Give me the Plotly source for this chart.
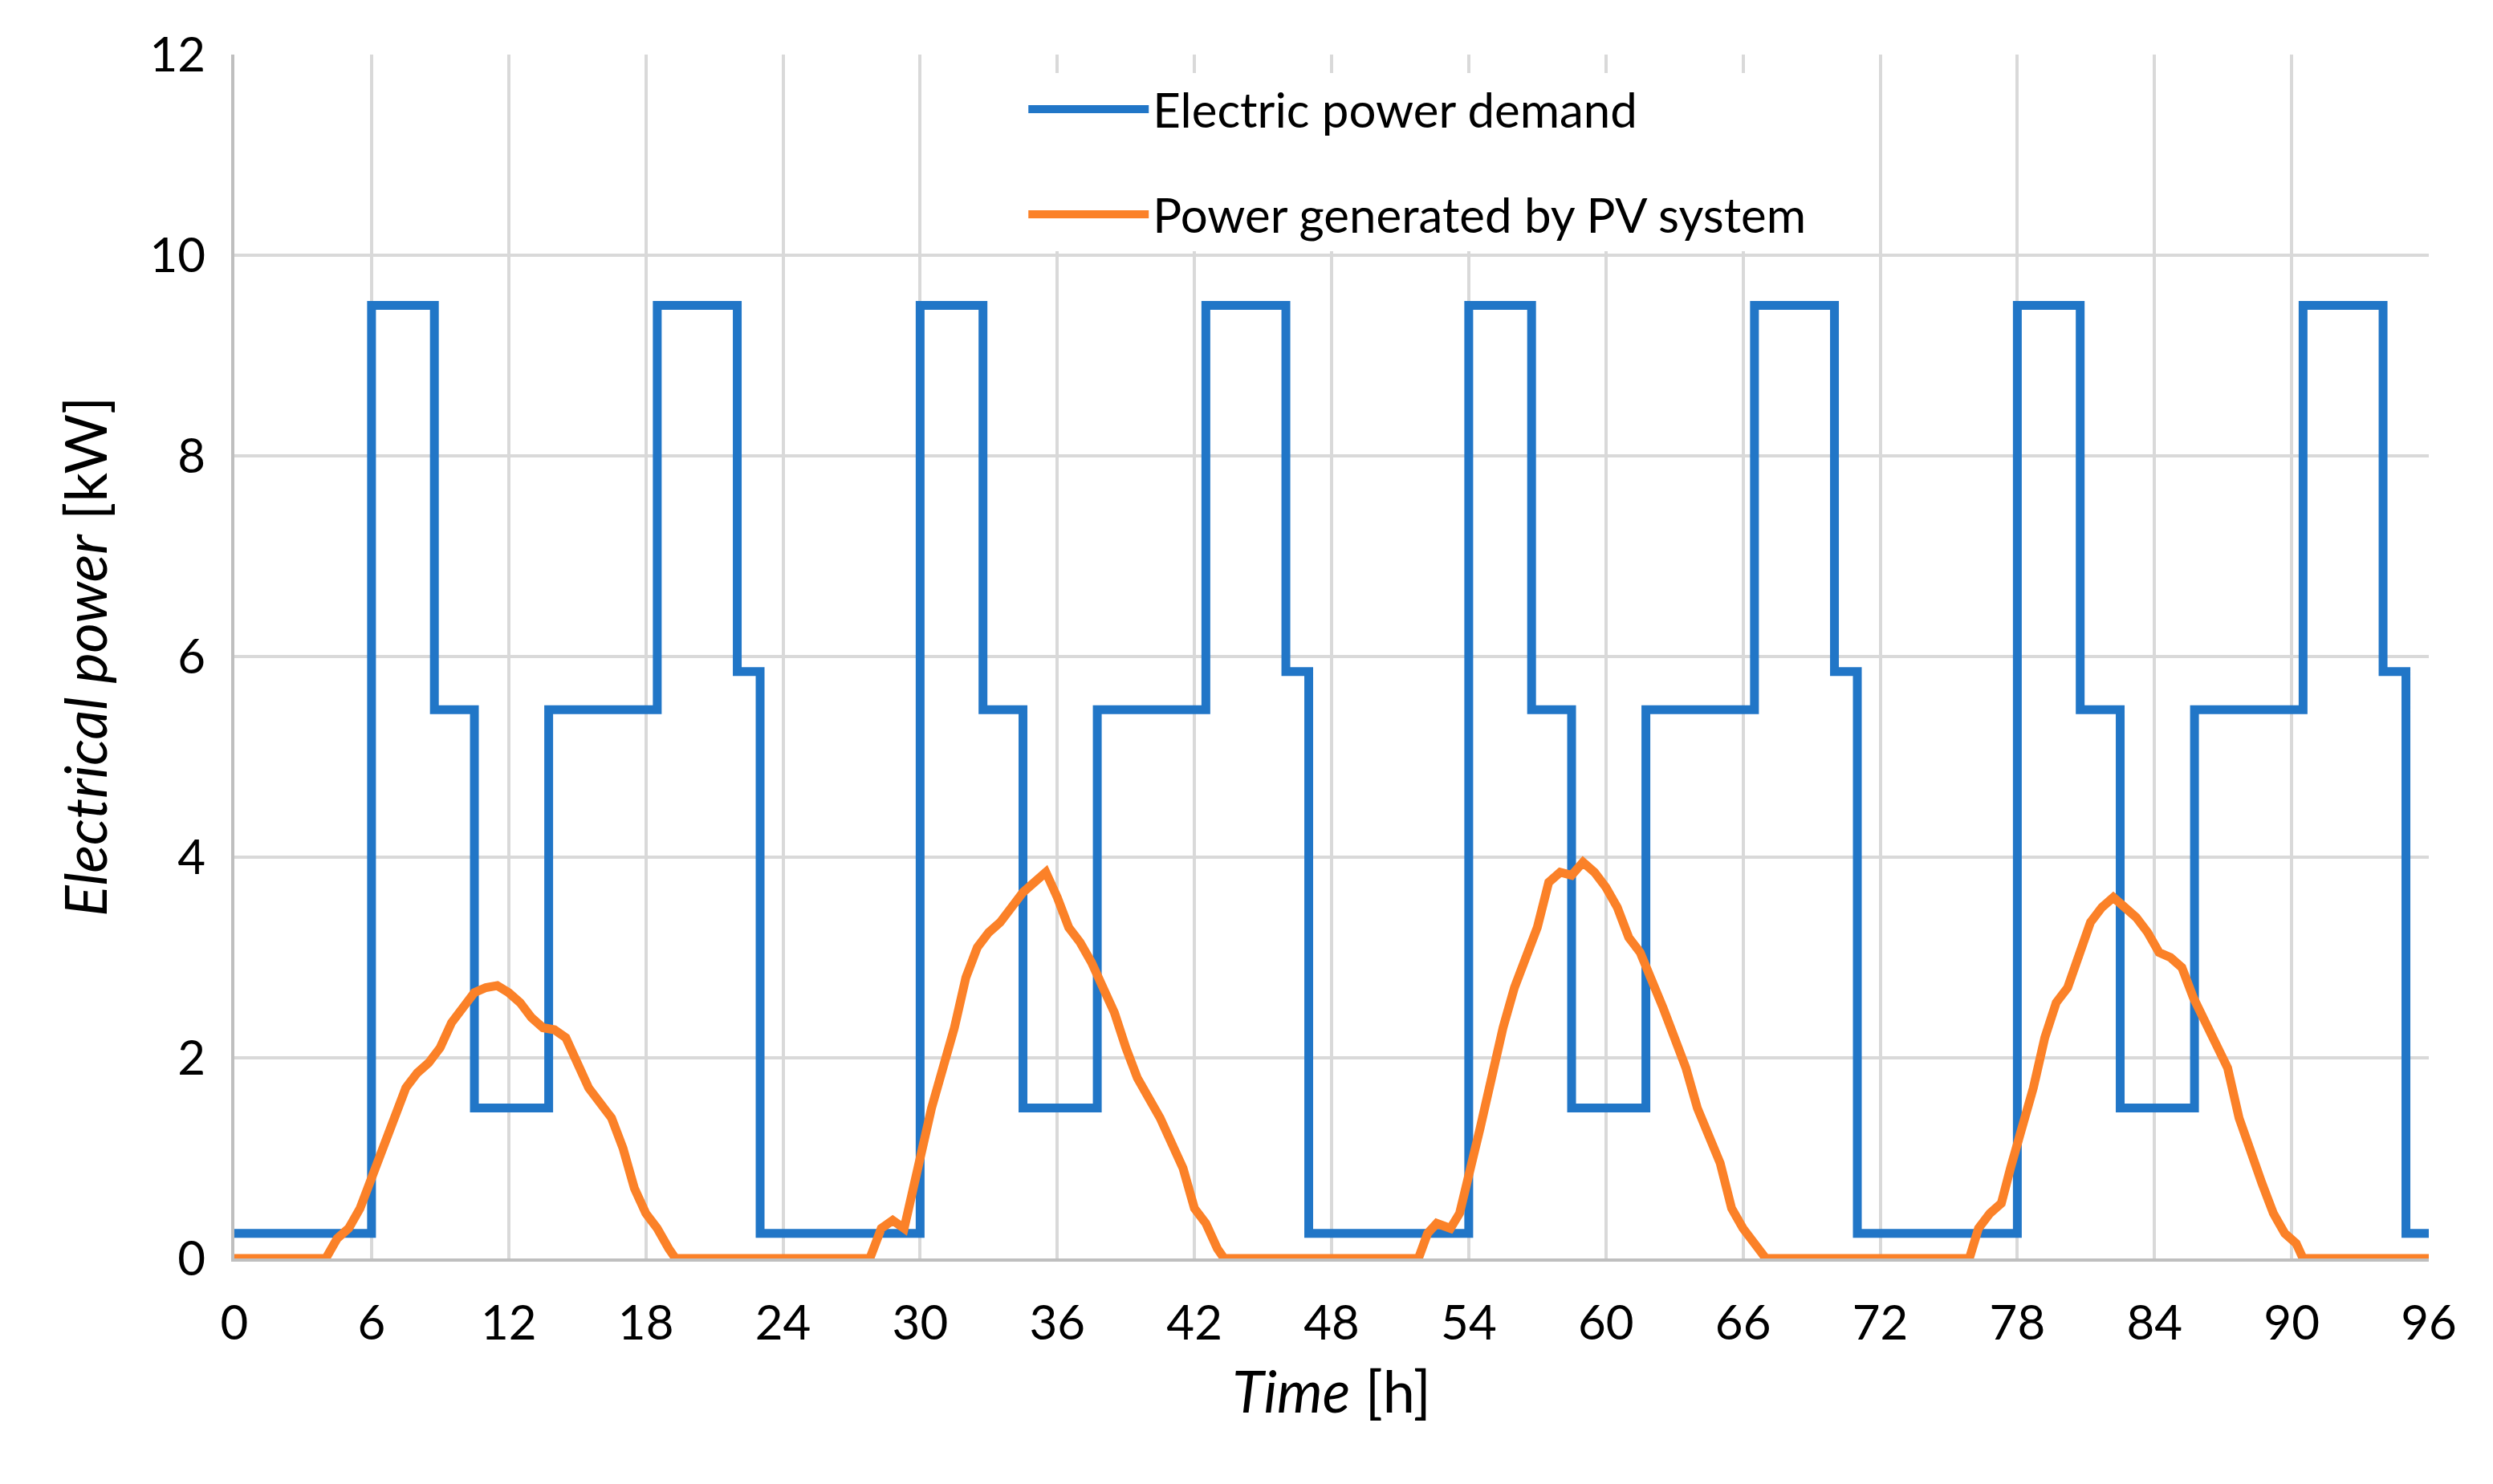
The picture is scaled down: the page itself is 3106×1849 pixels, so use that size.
import plotly.graph_objects as go

# demand step breakpoints (h) and levels (kW), held until the next breakpoint
demand_t = [0, 6, 8.75, 10.5, 13.75, 18.5, 22, 23,
            24, 30, 32.75, 34.5, 37.75, 42.5, 46, 47,
            48, 54, 56.75, 58.5, 61.75, 66.5, 70, 71,
            72, 78, 80.75, 82.5, 85.75, 90.5, 94, 95, 96]
demand_kw = [0.25, 9.5, 5.47, 1.5, 5.47, 9.5, 5.85, 0.25,
             0.25, 9.5, 5.47, 1.5, 5.47, 9.5, 5.85, 0.25,
             0.25, 9.5, 5.47, 1.5, 5.47, 9.5, 5.85, 0.25,
             0.25, 9.5, 5.47, 1.5, 5.47, 9.5, 5.85, 0.25, 0.25]

pv_t = [0, 4, 4.5, 5, 5.5, 6, 6.5, 7, 7.5, 8, 8.5, 9, 9.5, 10, 10.5, 11, 11.5, 12, 12.5, 13, 13.5, 14,
        14.5, 15, 15.5, 16, 16.5, 17, 17.5, 18, 18.5, 19, 19.3,
        27.8, 28.3, 28.8, 29.3, 29.7, 30, 30.5, 31, 31.5, 32, 32.5, 33, 33.5, 34, 34.5, 35, 35.5, 36,
        36.5, 37, 37.5, 38, 38.5, 39, 39.5, 40, 40.5, 41, 41.5, 42, 42.5, 43, 43.3,
        51.8, 52.2, 52.6, 53.2, 53.6, 54, 54.5, 55, 55.5, 56, 56.5, 57, 57.5, 58, 58.5, 59, 59.5, 60,
        60.5, 61, 61.5, 62, 62.5, 63, 63.5, 64, 64.5, 65, 65.5, 66, 66.5, 67,
        75.9, 76.3, 76.8, 77.3, 77.7, 78.2, 78.7, 79.2, 79.7, 80.2, 80.7, 81.2, 81.7, 82.2, 82.7, 83.2,
        83.7, 84.2, 84.7, 85.2, 85.7, 86.2, 86.7, 87.2, 87.7, 88.2, 88.7, 89.2, 89.7, 90.2, 90.5, 96]
pv_kw = [0, 0, 0.2, 0.3, 0.5, 0.8, 1.1, 1.45, 1.7, 1.85, 1.95, 2.1, 2.35, 2.5, 2.65, 2.7, 2.72, 2.65,
         2.55, 2.4, 2.3, 2.28, 2.2, 1.95, 1.7, 1.55, 1.4, 1.1, 0.7, 0.45, 0.3, 0.1, 0,
         0, 0.3, 0.38, 0.3, 0.7, 1.0, 1.5, 1.9, 2.3, 2.8, 3.1, 3.25, 3.35, 3.5, 3.65, 3.75, 3.85, 3.6,
         3.3, 3.15, 2.95, 2.7, 2.45, 2.1, 1.8, 1.6, 1.4, 1.15, 0.9, 0.5, 0.35, 0.1, 0,
         0, 0.25, 0.35, 0.3, 0.45, 0.8, 1.3, 1.8, 2.3, 2.7, 3.0, 3.3, 3.75, 3.85, 3.82, 3.95, 3.85, 3.7,
         3.5, 3.2, 3.05, 2.8, 2.5, 2.2, 1.9, 1.5, 1.25, 0.95, 0.5, 0.3, 0.15, 0,
         0, 0.3, 0.45, 0.55, 0.9, 1.3, 1.7, 2.2, 2.55, 2.7, 3.05, 3.35, 3.5, 3.6, 3.5, 3.4,
         3.25, 3.05, 3.0, 2.9, 2.6, 2.35, 2.15, 1.9, 1.4, 1.05, 0.75, 0.45, 0.25, 0.15, 0, 0]

font = "Lato"
fig = go.Figure()
fig.add_trace(go.Scatter(x=demand_t, y=demand_kw, mode="lines", line_shape="hv", legendgroup="a",
                         name="Electric power demand", line=dict(color="#2176c7", width=11)))
fig.add_trace(go.Scatter(x=pv_t, y=pv_kw, mode="lines", legendgroup="b",
                         name="Power generated by PV system", line=dict(color="#fb8128", width=11)))

fig.update_layout(
    width=3106, height=1849, plot_bgcolor="white", paper_bgcolor="white",
    margin=dict(l=284, r=88, t=60, b=289),
    font=dict(family=font, size=60, color="black"),
    legend=dict(x=0.36, y=0.985, xanchor="left", yanchor="top", bgcolor="white",
                font=dict(size=60), itemwidth=150, traceorder="grouped", tracegroupgap=50),
    xaxis=dict(range=[0, 96], tickvals=list(range(0, 97, 6)), showgrid=True,
               gridcolor="#d9d9d9", gridwidth=4, zeroline=False, showline=True,
               linecolor="#bfbfbf", linewidth=4, ticks="", ticklabelstandoff=25,
               title=dict(text="<i>Time</i> [h]", standoff=30)),
    yaxis=dict(range=[0, 12], tickvals=list(range(0, 13, 2)), showgrid=True,
               gridcolor="#d9d9d9", gridwidth=4, zeroline=False, showline=True,
               linecolor="#bfbfbf", linewidth=4, ticklabelstandoff=20,
               title=dict(text="<i>Electrical power</i> [kW]", standoff=30)),
)
fig.write_html("out.html")
